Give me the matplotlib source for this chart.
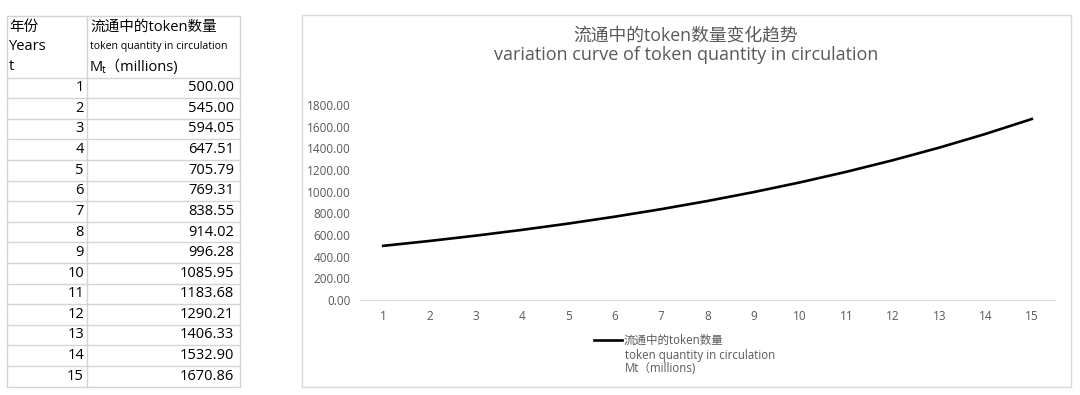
import matplotlib.pyplot as plt
from matplotlib.patches import Rectangle

plt.rcParams['font.family'] = ['Open Sans', 'Noto Sans CJK SC', 'DejaVu Sans']

years = [1, 2, 3, 4, 5, 6, 7, 8, 9, 10, 11, 12, 13, 14, 15]
tokens = [500.00, 545.00, 594.05, 647.51, 705.79, 769.31, 838.55, 914.02,
          996.28, 1085.95, 1183.68, 1290.21, 1406.33, 1532.90, 1670.86]
yticks = [0, 200, 400, 600, 800, 1000, 1200, 1400, 1600, 1800]

title_cn = "流通中的token数量变化趋势"
title_en = "variation curve of token quantity in circulation"
head1 = ["年份", "Years", "t"]
head2 = ["流通中的token数量", "token quantity in circulation", "Mₜ（millions)"]
legend_lines = ["流通中的token数量", "token quantity in circulation", "Mt（millions)"]

W, H = 1080, 395
fig = plt.figure(figsize=(W / 100, H / 100), dpi=100)

# overlay in pixel coords for table + chart frame
bg = fig.add_axes([0, 0, 1, 1])
bg.set_xlim(0, W)
bg.set_ylim(H, 0)
bg.axis('off')

grid_c = '#d4d4d4'
txt_c = '#000000'
x0, xm, x1 = 7, 87, 240
y_top, y_head = 16, 77.5
row_h = 20.6
y_bot = y_head + row_h * len(years)

# table lines
bg.plot([x0, x1, x1, x0, x0], [y_top, y_top, y_bot, y_bot, y_top], color=grid_c, lw=1)
bg.plot([xm, xm], [y_top, y_bot], color=grid_c, lw=1)
for i in range(len(years)):
    y = y_head + row_h * i
    bg.plot([x0, x1], [y, y], color=grid_c, lw=1)

# header
for i, (a, b) in enumerate(zip(head1, head2)):
    y = 27 + 20 * i
    bg.text(9, y, a, fontsize=10.5, va='center', ha='left', color=txt_c)
    bg.text(90, y, b, fontsize=7.6 if i == 1 else 10.5, va='center', ha='left', color=txt_c)

# rows
for i, (t, m) in enumerate(zip(years, tokens)):
    y = y_head + row_h * (i + 0.5)
    bg.text(84, y, str(t), fontsize=10.5, va='center', ha='right', color=txt_c)
    bg.text(234, y, f"{m:.2f}", fontsize=10.5, va='center', ha='right', color=txt_c)

# chart frame
bg.add_patch(Rectangle((302, 15), 1071 - 302, 387 - 15, fill=False, ec='#d9d9d9', lw=1))

# chart
ax = fig.add_axes([360 / W, (H - 300) / H, (1055 - 360) / W, 195 / H])
ax.set_facecolor('none')
ax.plot(years, tokens, color='black', lw=1.9, label=legend_lines[0])
ax.set_xlim(0.5, 15.5)
ax.set_ylim(0, 1800)
ax.set_xticks(years)
ax.set_yticks(yticks)
ax.set_yticklabels([f"{v:.2f}" for v in yticks])
for s in ['top', 'right', 'left']:
    ax.spines[s].set_visible(False)
ax.spines['bottom'].set_color('#d9d9d9')
ax.tick_params(length=0, labelsize=8.5, colors='#595959')
ax.tick_params(axis='y', pad=7)
ax.tick_params(axis='x', pad=7)

fig.text(686 / W, (H - 35) / H, title_cn, fontsize=12.8, ha='center', va='center', color='#595959')
fig.text(686 / W, (H - 55) / H, title_en, fontsize=13, ha='center', va='center', color='#595959')

leg = ax.legend(loc='upper left', bbox_to_anchor=(594 / W, (H - 334) / H),
                bbox_transform=fig.transFigure, frameon=False, fontsize=8.3,
                handlelength=2.4, handletextpad=0.2, borderpad=0, borderaxespad=0)
for t in leg.get_texts():
    t.set_color('#595959')
fig.text(625 / W, (H - 355) / H, legend_lines[1], fontsize=8.3, ha='left', va='center', color='#595959')
fig.text(625 / W, (H - 368) / H, legend_lines[2], fontsize=8.3, ha='left', va='center', color='#595959')

fig.savefig('out.png', dpi=100, facecolor='white')
